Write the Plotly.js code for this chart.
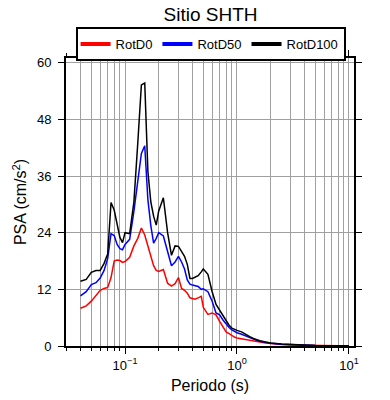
<!DOCTYPE html>
<html>
<head>
<meta charset="utf-8">
<script src="https://cdn.plot.ly/plotly-3.0.1.min.js"></script>
<style>html,body{margin:0;padding:0;background:#fff;}#chart{width:390px;height:400px;}</style>
</head>
<body>
<div id="chart"></div>
<script>
const periods = [0.040,0.045,0.050,0.055,0.060,0.065,0.070,0.075,0.080,0.085,0.090,0.095,0.100,0.110,0.120,0.130,0.140,0.150,0.160,0.170,0.180,0.190,0.200,0.220,0.240,0.260,0.280,0.300,0.320,0.340,0.360,0.380,0.400,0.420,0.450,0.480,0.500,0.550,0.600,0.650,0.700,0.750,0.800,0.850,0.900,0.950,1.0,1.1,1.2,1.3,1.4,1.5,1.6,1.8,2.0,2.5,3.0,4.0,5.0,6.0,7.0,8.0,10.0];
const rotD0 = [8.0,8.5,9.5,10.6,11.8,12.2,12.4,14.5,18.0,18.2,18.1,17.7,17.9,18.8,21.2,22.8,25.0,23.5,21.0,19.0,17.0,16.0,15.8,16.2,13.3,12.7,13.2,14.5,12.2,11.8,11.2,10.2,10.0,9.9,10.2,10.5,8.2,6.7,7.0,6.6,5.2,4.0,3.0,2.6,2.2,1.9,1.7,1.5,1.3,1.2,1.1,0.95,0.85,0.65,0.5,0.32,0.22,0.12,0.08,0.05,0.04,0.03,0.02];
const rotD50 = [10.6,11.5,13.0,13.4,14.4,16.0,18.5,23.8,23.4,21.5,20.6,20.4,21.5,22.6,28.5,35.5,40.8,42.4,31.0,25.5,21.8,22.8,24.0,23.3,20.0,17.0,17.8,19.0,17.8,16.3,14.0,13.1,12.9,12.8,12.6,12.0,12.1,11.5,9.5,7.0,6.6,5.5,4.6,3.9,3.4,3.0,2.8,2.5,2.1,1.7,1.4,1.2,1.0,0.75,0.58,0.38,0.27,0.15,0.09,0.06,0.045,0.035,0.025];
const rotD100 = [13.7,14.1,15.6,16.0,16.0,17.5,19.5,30.4,28.8,25.5,23.0,21.9,24.0,23.8,30.5,43.0,55.3,55.7,37.0,30.5,27.5,25.6,28.6,31.4,24.0,19.2,21.2,21.1,20.0,19.0,17.3,14.3,14.3,14.6,14.9,15.7,16.3,15.2,11.5,8.8,7.6,6.6,5.4,4.4,3.8,3.5,3.3,3.0,2.4,2.0,1.6,1.3,1.1,0.85,0.65,0.42,0.30,0.16,0.10,0.07,0.05,0.04,0.03];
const seriesNames = ["RotD0","RotD50","RotD100"];
const seriesColors = ["#ff0000","#0000ff","#000000"];
const yTicks = [0,12,24,36,48,60];
const xMajor = [0.1,1,10];
const xMajorText = ["10<sup>−1</sup>","10<sup>0</sup>","10<sup>1</sup>"];

const xMinor = [];
for (let e = -2; e <= 1; e++) for (let k = 2; k <= 9; k++) { const v = k*Math.pow(10,e); if (v > 0.0297 && v < 11.1) xMinor.push(v); }

const values = [rotD0, rotD50, rotD100];
const traces = [];
values.forEach((v,i) => {
  traces.push({x: periods, y: v, type: 'scatter', mode: 'lines', name: seriesNames[i],
    line: {color: seriesColors[i], width: 1.5}, showlegend: false, legendgroup: 'g'+i});
});
values.forEach((v,i) => {
  traces.push({x: [null], y: [null], type: 'scatter', mode: 'lines', name: seriesNames[i],
    line: {color: seriesColors[i], width: 4}, showlegend: true, legendgroup: 'g'+i});
});

const font = "Liberation Sans, Arial, sans-serif";
const layout = {
  width: 390, height: 400,
  margin: {l: 66, r: 36, t: 58, b: 54},
  paper_bgcolor: '#fff', plot_bgcolor: '#fff',
  font: {family: font, color: '#000', size: 13},
  title: {text: 'Sitio SHTH', font: {size: 19, family: font, color: '#000'}, x: 0.502, xref: 'paper', xanchor: 'center', y: 0.965, yref: 'container', yanchor: 'middle'},
  showlegend: true,
  legend: {orientation: 'h', x: 0.502, xanchor: 'center', y: 1.1076, yanchor: 'top',
    bordercolor: '#000', borderwidth: 2, bgcolor: '#fff', font: {size: 13, family: font}, itemwidth: 30,
    tracegroupgap: 0},
  xaxis: {
    type: 'log', range: [Math.log10(0.0297), Math.log10(11.1)],
    tickmode: 'array', tickvals: xMajor, ticktext: xMajorText,
    ticks: 'outside', ticklen: 6, tickwidth: 1, tickcolor: '#000',
    showline: true, linecolor: '#000', linewidth: 2, mirror: 'ticks',
    showgrid: true, gridcolor: '#a0a0a0', gridwidth: 1,
    minor: {tickvals: xMinor, ticks: 'outside', ticklen: 3, tickcolor: '#000', showgrid: true, gridcolor: '#a0a0a0', gridwidth: 1},
    zeroline: false, tickfont: {size: 13},
    title: {text: 'Periodo (s)', font: {size: 16}, standoff: 8}
  },
  yaxis: {
    range: [0, 61], tickmode: 'array', tickvals: yTicks,
    ticks: 'outside', ticklen: 6, tickwidth: 1, tickcolor: '#000',
    showline: true, linecolor: '#000', linewidth: 2, mirror: 'ticks',
    showgrid: true, gridcolor: '#a0a0a0', gridwidth: 1, zeroline: false,
    tickfont: {size: 13}, ticklabelstandoff: 4,
    title: {text: 'PSA (cm/s<sup>2</sup>)', font: {size: 16}, standoff: 6}
  }
};
Plotly.newPlot('chart', traces, layout, {displayModeBar: false, staticPlot: true});
</script>
</body>
</html>
